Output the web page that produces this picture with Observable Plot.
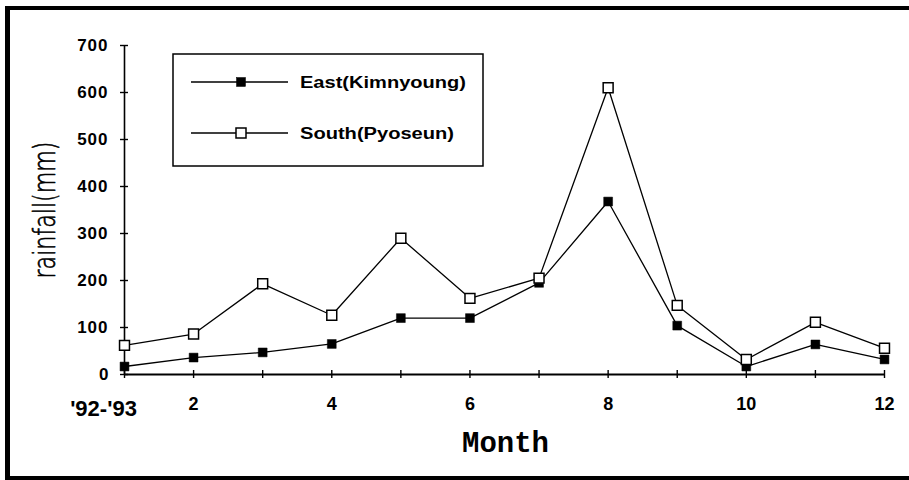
<!DOCTYPE html>
<html>
<head>
<meta charset="utf-8">
<script src="https://cdn.jsdelivr.net/npm/d3@7"></script>
<script src="https://cdn.jsdelivr.net/npm/@observablehq/plot@0.6"></script>
<style>
  body { margin: 0; background: #fff; }
  #wrap { position: relative; width: 909px; height: 480px; overflow: hidden; background: #fff; }
  #wrap svg { position: absolute; left: 0; top: 0; }
</style>
</head>
<body>
<div id="wrap"></div>
<script>
// ---- data ----
const months = [1, 2, 3, 4, 5, 6, 7, 8, 9, 10, 11, 12];
const eastValues = [17, 36, 47, 65, 120, 120, 195, 368, 104, 17, 64, 32];
const southValues = [62, 86, 193, 126, 290, 162, 205, 610, 147, 32, 111, 56];
const seriesNames = ["East(Kimnyoung)", "South(Pyoseun)"];
const yTicks = [0, 100, 200, 300, 400, 500, 600, 700];
const xLabelTicks = [2, 4, 6, 8, 10, 12];
const firstMonthLabel = "'92-'93";
const xTitle = "Month";
const yTitle = "rainfall(mm)";

const east = months.map((m, i) => ({month: m, value: eastValues[i], series: seriesNames[0]}));
const south = months.map((m, i) => ({month: m, value: southValues[i], series: seriesNames[1]}));
const all = east.concat(south);

const boldFont = "'Liberation Sans', Arial, sans-serif";

const chart = Plot.plot({
  width: 909,
  height: 480,
  marginLeft: 124,
  marginRight: 25,
  marginTop: 45,
  marginBottom: 106,
  style: {background: "transparent", fontFamily: boldFont, color: "black"},
  x: {domain: [1, 12], label: null},
  y: {domain: [0, 700], label: null},
  marks: [
    Plot.ruleX([1], {stroke: "black", strokeWidth: 1.6}),
    Plot.ruleY([0], {stroke: "black", strokeWidth: 2}),
    Plot.axisX(months, {anchor: "bottom", tickSize: 8, dy: -4, stroke: "black", strokeWidth: 1.4, tickFormat: () => "", label: null}),
    Plot.axisX(xLabelTicks, {anchor: "bottom", tickSize: 0, tickPadding: 23, fontSize: 18, fontWeight: "bold", fill: "black", tickFormat: d => String(d), label: null}),
    Plot.axisY(yTicks, {anchor: "left", tickSize: 8, dx: 4, stroke: "black", strokeWidth: 1.4, tickFormat: () => "", label: null}),
    Plot.axisY(yTicks, {anchor: "left", tickSize: 0, tickPadding: 16, fontSize: 17, fontWeight: "bold", fill: "black", tickFormat: d => String(d), label: null}),
    Plot.text([firstMonthLabel], {x: () => months[0], y: () => 0, text: d => d, dx: -21, dy: 34, fontSize: 22, fontWeight: "bold", fill: "black", lineAnchor: "middle", textAnchor: "middle"}),
    Plot.text([yTitle], {frameAnchor: "left", dx: -79, rotate: -90, fontSize: 30, fontFamily: "'DejaVu Sans', sans-serif", fontWeight: "200", fill: "black", stroke: "black", strokeWidth: 0.7, lineAnchor: "middle", textAnchor: "middle"}),
    Plot.text([xTitle], {frameAnchor: "bottom", dx: 1, dy: 68, fontSize: 29, fontFamily: "'Liberation Mono', 'Courier New', monospace", fontWeight: "bold", fill: "black", lineAnchor: "middle", textAnchor: "middle"}),
    Plot.line(all, {x: "month", y: "value", z: "series", stroke: "black", strokeWidth: 1.3}),
    Plot.dot(east, {x: "month", y: "value", symbol: "square", r: 5, fill: "black", stroke: "black", strokeWidth: 0.5}),
    Plot.dot(south, {x: "month", y: "value", symbol: "square", r: 5.6, fill: "white", stroke: "black", strokeWidth: 1.5})
  ]
});

const wrap = document.getElementById("wrap");
wrap.appendChild(chart);

const svgSel = d3.select(chart);
// slightly wide bold y digits, as in the scanned original
const yLabelSet = new Set(yTicks.filter(d => d > 0).map(String));
svgSel.selectAll("text").filter(function () { return yLabelSet.has(this.textContent); })
  .attr("letter-spacing", "1px");
// condense the thin y title to the original's length
svgSel.selectAll("text").filter(function () { return this.textContent === yTitle; })
  .attr("textLength", 137).attr("lengthAdjust", "spacingAndGlyphs");

// ---- overlay: legend box and outer frame ----
const ov = d3.select(wrap).append("svg").attr("width", 909).attr("height", 480);
ov.append("rect").attr("x", 173).attr("y", 54).attr("width", 310).attr("height", 112)
  .attr("fill", "white").attr("stroke", "black").attr("stroke-width", 1.5);
const legendRows = [
  {name: seriesNames[0], y: 82, fill: "black", side: 9, sw: 0.5, len: 166},
  {name: seriesNames[1], y: 133, fill: "white", side: 10, sw: 1.5, len: 154}
];
legendRows.forEach(r => {
  ov.append("line").attr("x1", 191).attr("x2", 288).attr("y1", r.y).attr("y2", r.y)
    .attr("stroke", "black").attr("stroke-width", 1.3);
  ov.append("rect").attr("x", 241 - r.side / 2).attr("y", r.y - r.side / 2)
    .attr("width", r.side).attr("height", r.side)
    .attr("fill", r.fill).attr("stroke", "black").attr("stroke-width", r.sw);
  ov.append("text").attr("x", 300).attr("y", r.y + 6)
    .attr("font-family", boldFont).attr("font-weight", "bold").attr("font-size", 16)
    .attr("textLength", r.len).attr("lengthAdjust", "spacingAndGlyphs")
    .text(r.name);
});
// outer frame (top, left, bottom)
ov.append("line").attr("x1", 5).attr("x2", 909).attr("y1", 8).attr("y2", 8).attr("stroke", "black").attr("stroke-width", 4);
ov.append("line").attr("x1", 7.5).attr("x2", 7.5).attr("y1", 6).attr("y2", 480).attr("stroke", "black").attr("stroke-width", 5);
ov.append("line").attr("x1", 5).attr("x2", 909).attr("y1", 478).attr("y2", 478).attr("stroke", "black").attr("stroke-width", 4);
</script>
</body>
</html>
